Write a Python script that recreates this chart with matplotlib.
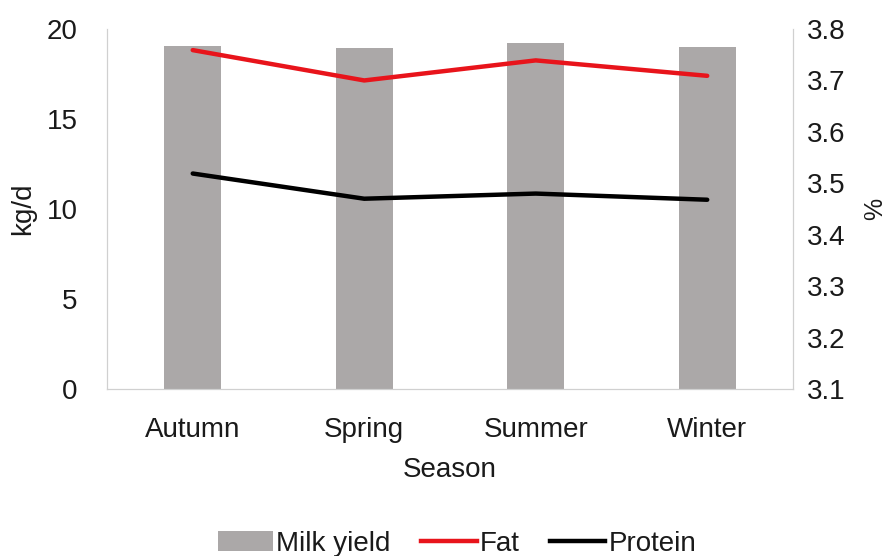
import matplotlib
matplotlib.use("Agg")
import matplotlib.pyplot as plt
from matplotlib.patches import Patch
from matplotlib.lines import Line2D

seasons = ["Autumn", "Spring", "Summer", "Winter"]
milk_yield = [19.07, 18.96, 19.24, 19.02]
fat = [3.759, 3.700, 3.739, 3.709]
protein = [3.519, 3.470, 3.480, 3.468]

plt.rcParams['font.family'] = ['Liberation Sans', 'DejaVu Sans']
FS = 20
TC = "#1a1a1a"

fig = plt.figure(figsize=(8.96, 5.56), dpi=100)
ax = fig.add_axes([0.1194, 0.3004, 0.7656, 0.6474])
x = list(range(len(seasons)))
ax.bar(x, milk_yield, width=0.33, color="#ABA8A8", zorder=2)
ax.set_xlim(-0.5, 3.5)
ax.set_ylim(0, 20)
ax.set_yticks([0, 5, 10, 15, 20])
ax.set_xticks(x)
ax.set_xticklabels(seasons)
ax.tick_params(axis='both', length=0, labelsize=FS, colors=TC)
ax.tick_params(axis='y', pad=21)
ax.tick_params(axis='x', pad=20)
for s in ["left", "bottom", "right"]:
    ax.spines[s].set_color("#D0D0D0")
ax.spines["top"].set_visible(False)
ax.set_ylabel("kg/d", fontsize=FS, color=TC, labelpad=8)
ax.set_xlabel("Season", fontsize=FS, color=TC, labelpad=10)

ax2 = ax.twinx()
ax2.plot(x, fat, color="#E8141B", lw=3.2, solid_capstyle='round', zorder=3)
ax2.plot(x, protein, color="#000000", lw=3.2, solid_capstyle='round', zorder=3)
ax2.set_ylim(3.1, 3.8)
ax2.set_yticks([3.1, 3.2, 3.3, 3.4, 3.5, 3.6, 3.7, 3.8])
ax2.set_yticklabels(["3.1", "3.2", "3.3", "3.4", "3.5", "3.6", "3.7", "3.8"])
ax2.tick_params(axis='y', length=0, labelsize=FS, colors=TC, pad=10)
for s in ["left", "bottom", "right"]:
    ax2.spines[s].set_color("#D0D0D0")
ax2.spines["top"].set_visible(False)
ax2.set_ylabel("%", fontsize=18, color=TC, labelpad=13)

handles = [Patch(facecolor="#ABA8A8", edgecolor="none"),
           Line2D([0], [0], color="#E8141B", lw=3.2),
           Line2D([0], [0], color="#000000", lw=3.2)]
fig.legend(handles, ["Milk yield", "Fat", "Protein"], loc="center",
           bbox_to_anchor=(0.51, 0.022), ncol=3, frameon=False,
           fontsize=FS, handlelength=2.0, handletextpad=0.1, columnspacing=1.1,
           labelcolor=TC)

fig.savefig("out.png", dpi=100)
